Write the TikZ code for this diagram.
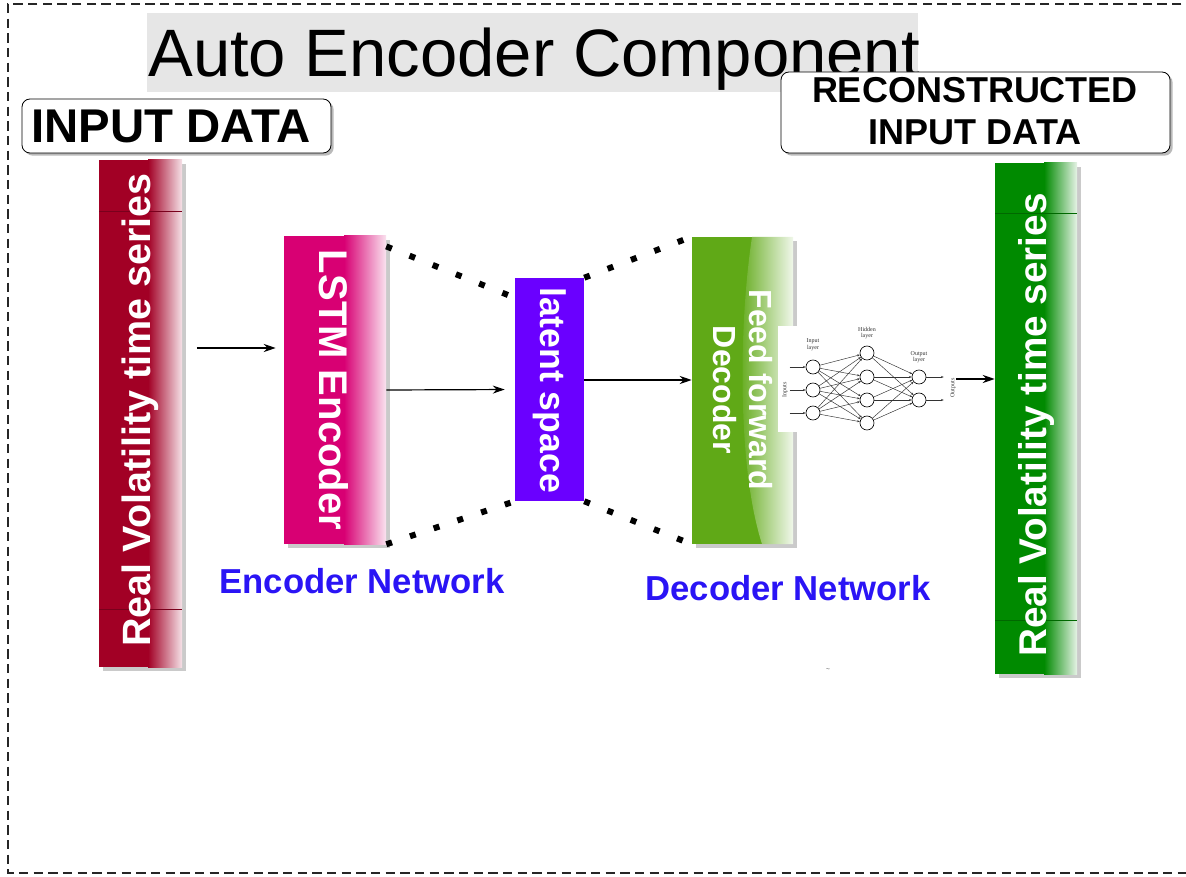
\documentclass[tikz,border=0pt]{standalone}
\usepackage{fontspec}
\setmainfont{Liberation Sans}
\newfontfamily\nnfont{Liberation Serif}
\usetikzlibrary{arrows.meta,shadows,fit,calc}

\definecolor{crimson}{HTML}{A20025}
\definecolor{crimsonlt}{HTML}{F5E1E7}
\definecolor{magentab}{HTML}{D80073}
\definecolor{magentalt}{HTML}{FAE2EF}
\definecolor{latentv}{HTML}{6A00FF}
\definecolor{leafgreen}{HTML}{60A917}
\definecolor{leaflt}{HTML}{F0F7EA}
\definecolor{darkgreen}{HTML}{008A00}
\definecolor{darkgreenlt}{HTML}{E6F3E6}
\definecolor{titlegray}{HTML}{E6E6E6}
\definecolor{netblue}{HTML}{2A14F5}

\begin{document}
\begin{tikzpicture}[x=0.75pt,y=-0.75pt,
  frame/.style={dash pattern=on 7pt off 4pt, line width=1.1pt, black!85},
  labelbox/.style={draw=black, line width=0.6pt, fill=white, rounded corners=6pt, inner sep=0pt,
    drop shadow={shadow xshift=2pt, shadow yshift=-2pt, fill=black!45, opacity=.6}},
  colbox/.style={inner sep=0pt, draw=none,
    drop shadow={shadow xshift=3pt, shadow yshift=-3pt, fill=black!35, opacity=.6}},
  colline/.style={line width=0.5pt},
  coltext/.style={text=white, inner sep=0pt},
  arr/.style={-{Stealth[length=9pt,width=6pt]}, line width=0.9pt, black},
  dotline/.style={line width=4.5pt, dash pattern=on 4.5pt off 14.25pt, black},
  neuron/.style={circle, draw=black, line width=0.5pt, fill=white, minimum size=10.5pt, inner sep=0pt},
  nnlink/.style={line width=0.35pt, black!80, -{Stealth[length=2pt,width=1.6pt]}},
  nnlabel/.style={font=\nnfont\fontsize{4.5pt}{5pt}\selectfont, align=center, inner sep=0pt, text=black!80},
  nettext/.style={font=\bfseries\fontsize{26pt}{30pt}\selectfont, text=netblue, inner sep=0pt}]
\useasboundingbox (0,0) rectangle (1186,877);

% dashed outer frame (open on the right)
\draw[frame] (1196,4) -- (8,4) -- (8,873) -- (1196,873);

% title
\node[fill=titlegray, inner sep=0pt, fit={(147,13) (918,92)}] (titlebox) {};
\node[anchor=base west, inner sep=0pt, font=\fontsize{50.3pt}{58pt}\selectfont] (title) at (148,77) {Auto Encoder Component};

% headings
\node[labelbox, fit={(22,99) (331,153)}] (inbox) {};
\node[font=\bfseries\fontsize{35.5pt}{40pt}\selectfont, inner sep=0pt] (intxt) at (171,126.5) {INPUT DATA};
\node[labelbox, fit={(781,72) (1170,153)}] (outbox) {};
\node[font=\bfseries\fontsize{27pt}{32pt}\selectfont, align=center, inner sep=0pt] (outtxt) at (975,111) {RECONSTRUCTED\\INPUT DATA};

% input series column
\node[colbox, fill=crimson, fit={(99,160) (182,667)}] (inred) {};
\shade[left color=crimson, right color=crimsonlt] (148,160) rectangle (182,667);
\draw[colline, crimson!75!black] (99,211) -- (182,211) (99,609) -- (182,609);
\node[coltext, rotate=90, font=\bfseries\fontsize{29.6pt}{32pt}\selectfont] (inredtxt) at (140,410) {Real Volatility time series};

% LSTM encoder
\node[colbox, fill=magentab, fit={(284,236) (386,544)}] (lstm) {};
\shade[left color=magentab, right color=magentalt] (344,236) rectangle (386,544);
\node[coltext, rotate=-90, font=\bfseries\fontsize{30pt}{32pt}\selectfont] (lstmtxt) at (334,390) {LSTM Encoder};

% latent space
\node[fill=latentv, inner sep=0pt, fit={(515,278) (584,501)}] (latent) {};
\node[coltext, rotate=-90, font=\bfseries\fontsize{26.7pt}{30pt}\selectfont] (latenttxt) at (550,390) {latent space};

% feed forward decoder
\node[colbox, fill=leafgreen, fit={(692,237) (793,544)}] (dec) {};
\shade[left color=leafgreen, right color=leaflt] (752,237) .. controls (738,330) and (738,470) .. (762,544) -- (793,544) -- (793,237) -- cycle;
\node[coltext, rotate=-90, align=center, font=\bfseries\fontsize{24pt}{27pt}\selectfont] (dectxt) at (743,390) {Feed forward\\Decoder};

% small network sketch
\node[fill=white, inner sep=0pt, fit={(778,326) (956,432)}] (nnbox) {};
\foreach \n/\y in {1/367,2/390,3/413} \node[neuron] (i\n) at (813,\y) {};
\foreach \n/\y in {1/353,2/377,3/400,4/423} \node[neuron] (h\n) at (867,\y) {};
\foreach \n/\y in {1/377,2/400} \node[neuron] (o\n) at (919,\y) {};
\foreach \a in {1,2,3} \foreach \b in {1,2,3,4} \draw[nnlink] (i\a) -- (h\b);
\foreach \a in {1,2,3,4} \foreach \b in {1,2} \draw[nnlink] (h\a) -- (o\b);
\foreach \n in {1,2,3} \draw[nnlink] ([xshift=-12pt]i\n.west) -- (i\n.west);
\foreach \n in {1,2} \draw[nnlink] (o\n.east) -- ([xshift=13pt]o\n.east);
\node[nnlabel] (ilab) at (813,345) {Input\\layer};
\node[nnlabel] (hlab) at (867,333) {Hidden\\layer};
\node[nnlabel] (olab) at (919,357) {Output\\layer};
\node[nnlabel, rotate=90] (inlab) at (785,390) {Inputs};
\node[nnlabel, rotate=90] (outlab) at (953,388) {Outputs};

% reconstructed series column
\node[colbox, fill=darkgreen, fit={(995,163) (1077,674)}] (outgreen) {};
\shade[left color=darkgreen, right color=darkgreenlt] (1044,163) rectangle (1077,674);
\draw[colline, darkgreen!75!black] (995,213) -- (1077,213) (995,620) -- (1077,620);
\node[coltext, rotate=90, font=\bfseries\fontsize{29pt}{32pt}\selectfont] (outgreentxt) at (1036,425) {Real Volatility time series};

% data flow arrows
\draw[arr, shorten <=11pt, shorten >=6pt] (inred.east |- 0,348) -- (lstm.west |- 0,348);
\draw[arr, shorten >=7.5pt] (lstm.east) -- (latent.west);
\draw[arr] (latent.east |- 0,380) -- (dec.west |- 0,380);
\draw[arr] (nnbox.east) -- (outgreen.west |- nnbox.east);

% bottleneck outline
\draw[dotline] ([yshift=-8pt]lstm.north east) -- ([yshift=-15pt]latent.north west);
\draw[dotline] (lstm.south east) -- (latent.south west);
\draw[dotline] (latent.north east) -- (dec.north west);
\draw[dotline] (latent.south east) -- (dec.south west);

% section captions
\node[nettext] (encnet) at (362,581) {Encoder Network};
\node[nettext] (decnet) at (788,588) {Decoder Network};
\node[inner sep=0pt, text=black!70, font=\fontsize{5pt}{6pt}\selectfont] (speck) at (828,670) {\textasciitilde};
\end{tikzpicture}
\end{document}
